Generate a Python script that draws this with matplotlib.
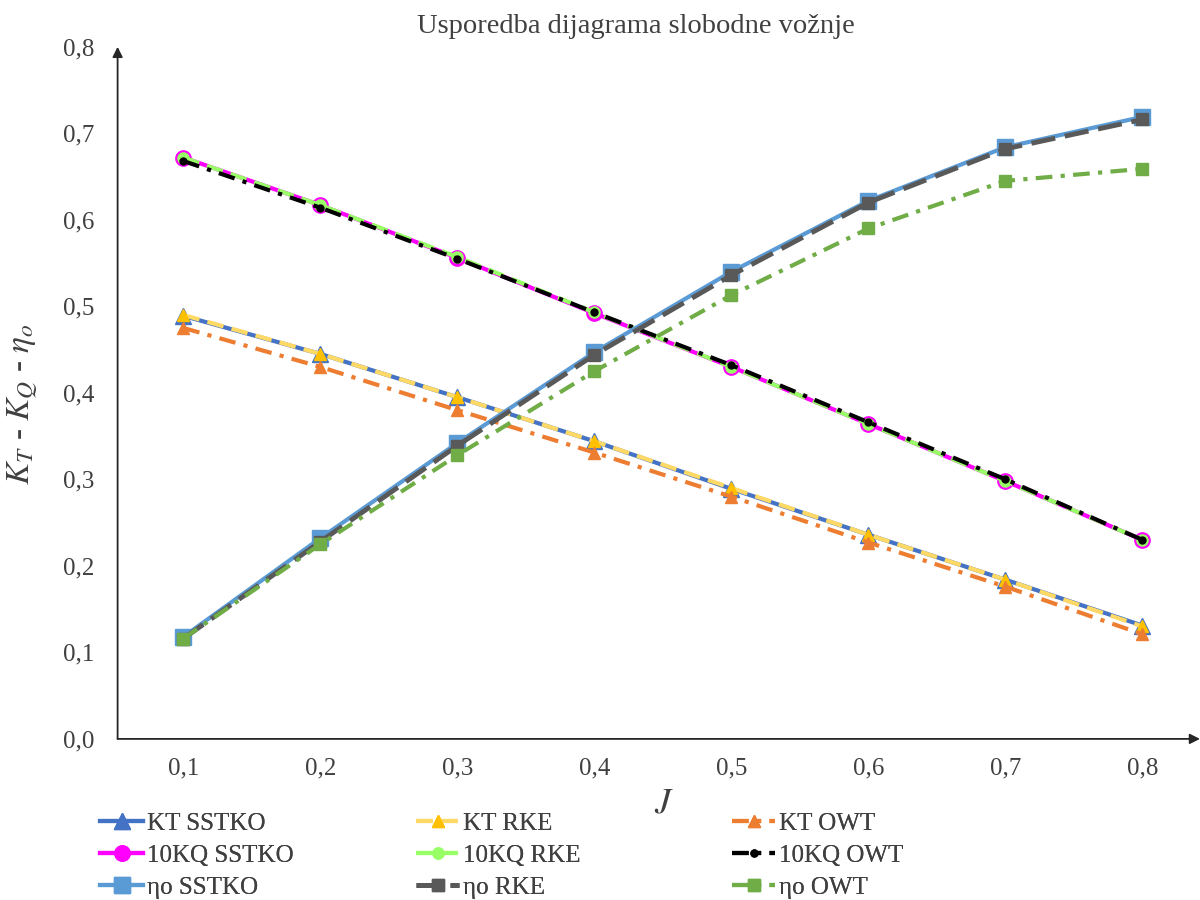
import matplotlib
matplotlib.use("Agg")
import matplotlib.pyplot as plt
from matplotlib.ticker import FuncFormatter, FixedLocator

plt.rcParams['font.family'] = ['Liberation Serif', 'DejaVu Serif']
plt.rcParams['mathtext.fontset'] = 'stix'

J = [0.1, 0.2, 0.3, 0.4, 0.5, 0.6, 0.7, 0.8]

kt_sstko = [0.489, 0.445, 0.395, 0.344, 0.289, 0.236, 0.184, 0.131]
kt_rke   = [0.490, 0.445, 0.395, 0.344, 0.290, 0.236, 0.184, 0.130]
kt_owt   = [0.475, 0.430, 0.380, 0.331, 0.280, 0.227, 0.176, 0.121]

kq_sstko = [0.672, 0.617, 0.556, 0.492, 0.430, 0.364, 0.298, 0.230]
kq_rke   = [0.672, 0.617, 0.557, 0.493, 0.430, 0.364, 0.298, 0.230]
kq_owt   = [0.668, 0.614, 0.555, 0.493, 0.432, 0.366, 0.300, 0.230]

eta_sstko = [0.118, 0.232, 0.342, 0.447, 0.540, 0.622, 0.684, 0.719]
eta_rke   = [0.116, 0.228, 0.339, 0.444, 0.536, 0.620, 0.682, 0.716]
eta_owt   = [0.116, 0.225, 0.328, 0.425, 0.513, 0.590, 0.645, 0.659]

labels = ["KT SSTKO", "KT RKE", "KT OWT",
          "10KQ SSTKO", "10KQ RKE", "10KQ OWT",
          "ηo SSTKO", "ηo RKE", "ηo OWT"]

fig = plt.figure(figsize=(12, 9), dpi=100)
ax = fig.add_axes([0.098, 0.179, 0.902, 0.769])

lw = 3.0
h = []
h += ax.plot(J, kt_sstko, color='#4472C4', lw=lw, ls='-', marker='^', ms=12,
             mfc='#4472C4', mec='#4472C4')
h += ax.plot(J, kt_rke, color='#FFD966', lw=lw, ls=(0, (4, 2)), marker='^', ms=9,
             mfc='#FFC000', mec='#FFC000')
h += ax.plot(J, kt_owt, color='#ED7D31', lw=lw, ls=(0, (4, 2, 1, 2)), marker='^', ms=8,
             mfc='#ED7D31', mec='#ED7D31')
h += ax.plot(J, kq_sstko, color='#FF00FF', lw=lw, ls='-', marker='o', ms=11,
             mfc='#FF00FF', mec='#FF00FF')
h += ax.plot(J, kq_rke, color='#99FF66', lw=lw, ls=(0, (4, 2)), marker='o', ms=8,
             mfc='#99FF66', mec='#99FF66')
h += ax.plot(J, kq_owt, color='black', lw=lw, ls=(0, (4, 2, 1, 2)), marker='o', ms=5,
             mfc='black', mec='black')
h += ax.plot(J, eta_sstko, color='#5B9BD5', lw=lw, ls='-', marker='s', ms=11,
             mfc='#5B9BD5', mec='#5B9BD5')
h += ax.plot(J, eta_rke, color='#595959', lw=lw + 0.5, ls=(0, (5, 2)), marker='s', ms=9,
             mfc='#595959', mec='#595959')
h += ax.plot(J, eta_owt, color='#70AD47', lw=lw, ls=(0, (4, 2, 1, 2)), marker='s', ms=9,
             mfc='#70AD47', mec='#70AD47')

ax.set_xlim(0.052, 0.842)
ax.set_ylim(0, 0.8)
ax.xaxis.set_major_locator(FixedLocator(J))
ax.yaxis.set_major_locator(FixedLocator([0.0, 0.1, 0.2, 0.3, 0.4, 0.5, 0.6, 0.7, 0.8]))
fmt = FuncFormatter(lambda v, p: f"{v:.1f}".replace('.', ','))
ax.xaxis.set_major_formatter(fmt)
ax.yaxis.set_major_formatter(fmt)
ax.tick_params(axis='both', length=0, labelsize=18, colors='#404040')
ax.tick_params(axis='x', pad=13)
ax.tick_params(axis='y', pad=17)
for s in ['top', 'right', 'left', 'bottom']:
    ax.spines[s].set_visible(False)
# axes lines with arrows
ax.annotate('', xy=(0, 1.0), xytext=(0, 0), xycoords='axes fraction',
            arrowprops=dict(arrowstyle='-|>', color='#262626', lw=1.3, mutation_scale=15,
                            shrinkA=0, shrinkB=0), annotation_clip=False)
ax.annotate('', xy=(1.0, 0), xytext=(0, 0), xycoords='axes fraction',
            arrowprops=dict(arrowstyle='-|>', color='#262626', lw=1.3, mutation_scale=15,
                            shrinkA=0, shrinkB=0), annotation_clip=False)

ax.set_xlabel('$J$', fontsize=26, color='#404040')
ax.xaxis.set_label_coords(0.505, -0.07)
ax.set_ylabel(r'$K_T$ - $K_Q$ - $\eta_o$', fontsize=24, color='#404040')
ax.yaxis.set_label_coords(-0.072, 0.483)
ax.set_title('Usporedba dijagrama slobodne vožnje', fontsize=20.5, color='#404040',
             x=0.479, pad=10)

# three legend columns (rows: KT / 10KQ / eta; columns: SSTKO / RKE / OWT)
col_x = [100 / 1200, 416 / 1200, 732 / 1200]
for c in range(3):
    idx = [c, c + 3, c + 6]
    leg = fig.legend(handles=[h[i] for i in idx], labels=[labels[i] for i in idx],
                     loc='upper left', bbox_to_anchor=(col_x[c], 0.0977),
                     borderaxespad=0, borderpad=0, frameon=False, fontsize=18,
                     handlelength=1.72, handletextpad=0.16,
                     labelspacing=0.38, labelcolor='#404040')
    fig.add_artist(leg)

fig.savefig('out.png', dpi=100)
